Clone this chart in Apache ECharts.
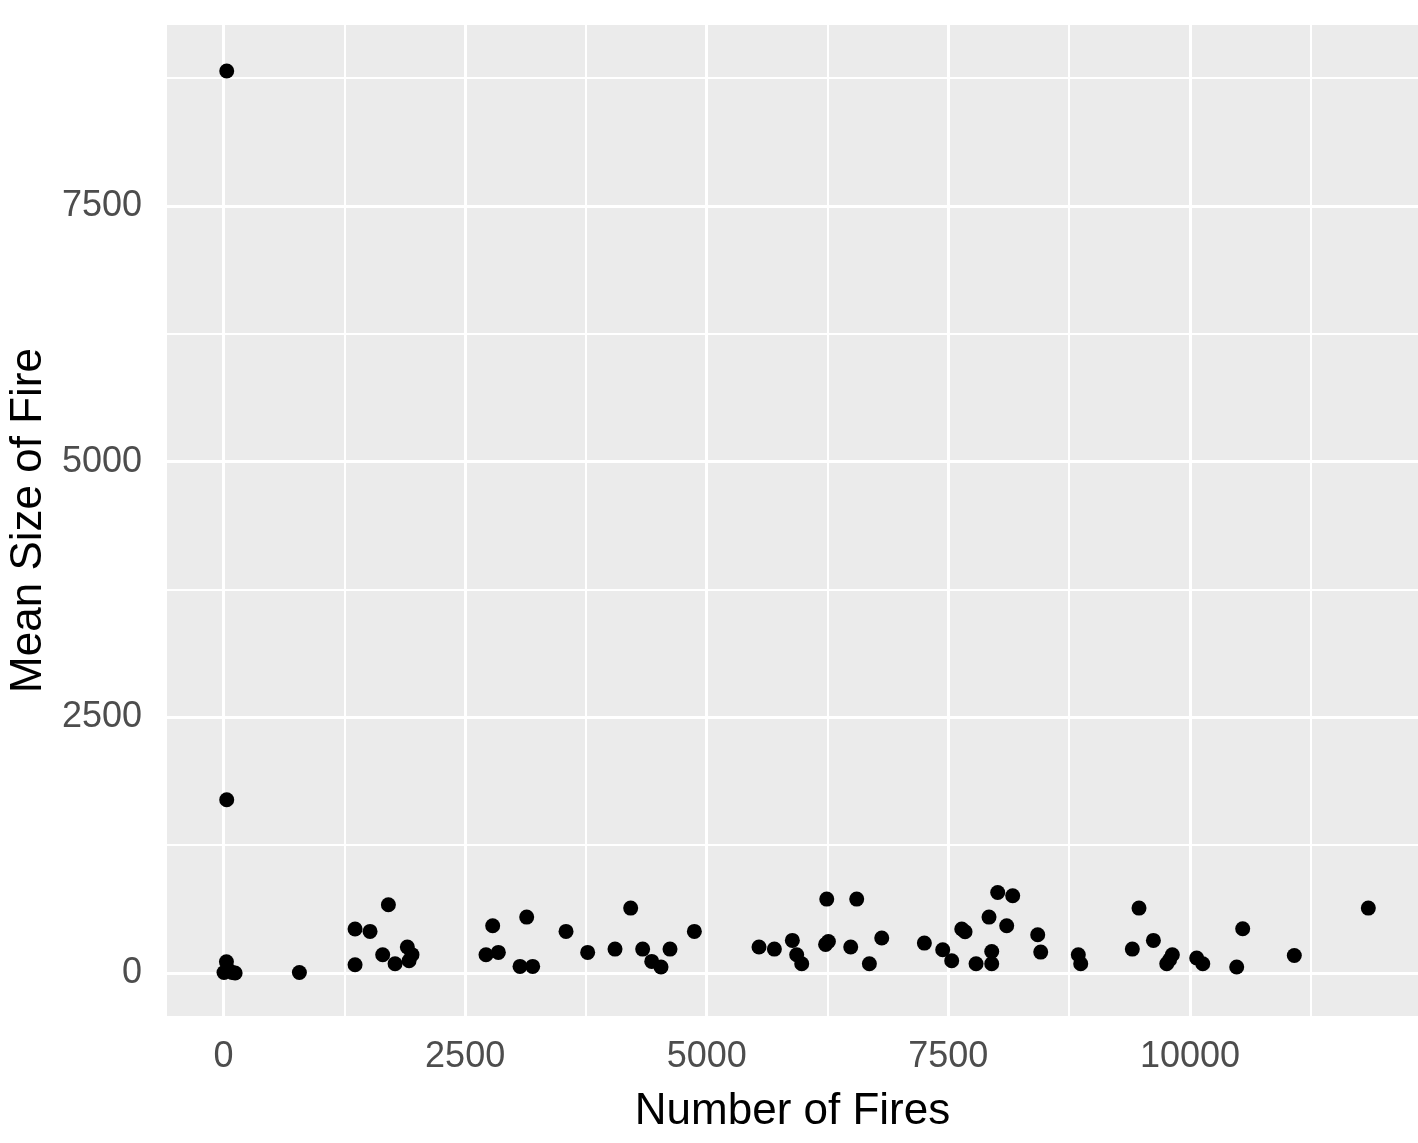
<!DOCTYPE html>
<html>
<head>
<meta charset="utf-8">
<script src="https://cdn.jsdelivr.net/npm/echarts@6/dist/echarts.min.js"></script>
<style>html,body{margin:0;padding:0;background:#fff;}#c{width:1418px;height:1143px;}</style>
</head>
<body>
<div id="c"></div>
<script>
// Number of fires (x) and mean size of fire (y)
const numFires = [5, 30, 50, 90, 120, 33, 33, 785,
  1361, 1516, 1706, 1361, 1647, 1775, 1902, 1950, 1920,
  2785, 2716, 2844, 3137, 3068, 3199, 3544,
  3768, 4051, 4213, 4337, 4431, 4527, 4620, 4872,
  5541, 5700, 5886, 5931, 5983, 6242, 6259, 6230, 6490, 6552, 6683, 6811,
  7252, 7442, 7535, 7639, 7673, 7787, 7949, 7949, 7921, 8011, 8166, 8104, 8425, 8456,
  8845, 8870, 9404, 9473, 9622, 9760, 9818, 9790, 10070, 10133, 10484, 10546, 11080, 11846];
const meanSize = [5, 110, 30, 5, 0, 8820, 1694, 5,
  430, 407, 668, 81, 179, 91, 255, 180, 120,
  462, 179, 202, 547, 65, 65, 407,
  202, 234, 635, 234, 114, 59, 234, 407,
  254, 234, 319, 179, 91, 723, 309, 280, 254, 723, 91, 342,
  293, 228, 120, 430, 404, 91, 91, 211, 547, 788, 756, 462, 374, 205,
  179, 91, 234, 635, 319, 91, 179, 130, 147, 91, 59, 433, 172, 635];

const xMajor = [0, 2500, 5000, 7500, 10000];
const xMinor = [1250, 3750, 6250, 8750, 11250];
const yMajor = [0, 2500, 5000, 7500];
const yMinor = [1250, 3750, 6250, 8750];

const points = numFires.map((x, i) => [x, meanSize[i]]);

const chart = echarts.init(document.getElementById('c'), null, {renderer: 'canvas'});
const tickStyle = {show: true, length: 11, lineStyle: {color: '#333333', width: 2}};
const font = 'Liberation Sans, Arial, sans-serif';
chart.setOption({
  animation: false,
  backgroundColor: '#ffffff',
  grid: {left: 167, right: 0, top: 25, bottom: 127, show: true, backgroundColor: '#EBEBEB', borderWidth: 0,
         containLabel: false, outerBoundsMode: 'none'},
  xAxis: {
    type: 'value', min: -585, max: 12360,
    name: 'Number of Fires', nameLocation: 'middle', nameGap: 74,
    nameTextStyle: {fontSize: 44, color: '#000', fontFamily: font},
    axisLine: {show: false},
    axisTick: Object.assign({customValues: xMajor}, tickStyle),
    axisLabel: {customValues: xMajor, fontSize: 36, color: '#4D4D4D', margin: 23, fontFamily: font,
                formatter: v => String(v)},
    splitLine: {show: false}
  },
  yAxis: {
    type: 'value', min: -420, max: 9270,
    name: 'Mean Size of Fire', nameLocation: 'middle', nameGap: 108,
    nameTextStyle: {fontSize: 44, color: '#000', fontFamily: font},
    axisLine: {show: false},
    axisTick: Object.assign({customValues: yMajor}, tickStyle),
    axisLabel: {customValues: yMajor, fontSize: 36, color: '#4D4D4D', margin: 25, fontFamily: font,
                formatter: v => String(v)},
    splitLine: {show: false}
  },
  series: [
    {
      type: 'scatter', data: [], z: 1, silent: true,
      markLine: {
        silent: true, symbol: ['none', 'none'], label: {show: false}, animation: false,
        data: [
          ...xMinor.map(v => ({xAxis: v, lineStyle: {color: '#ffffff', width: 2, type: 'solid'}})),
          ...yMinor.map(v => ({yAxis: v, lineStyle: {color: '#ffffff', width: 2, type: 'solid'}})),
          ...xMajor.map(v => ({xAxis: v, lineStyle: {color: '#ffffff', width: 3, type: 'solid'}})),
          ...yMajor.map(v => ({yAxis: v, lineStyle: {color: '#ffffff', width: 3, type: 'solid'}}))
        ]
      }
    },
    {
      type: 'scatter', data: points, z: 5, symbol: 'circle', symbolSize: 15,
      itemStyle: {color: '#000000', opacity: 1}
    }
  ]
});
</script>
</body>
</html>
